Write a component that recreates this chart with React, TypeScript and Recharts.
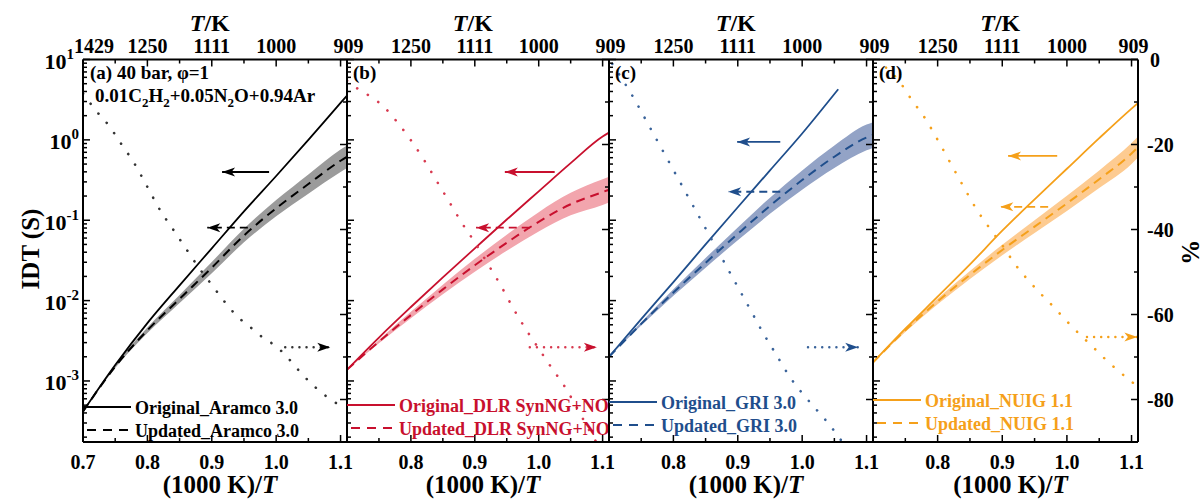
import React from 'react';
import { ComposedChart, Line, Area, XAxis, YAxis, ReferenceLine, ReferenceDot, Legend } from 'recharts';

const FONT = "'Liberation Serif', 'Times New Roman', Times, serif";
const W = 1202;
const H = 500;
const PLOT_TOP = 59.5;
const PLOT_BOTTOM = 442;
const X_DOMAIN: [number, number] = [0.7, 1.11];
const IDT_DOMAIN: [number, number] = [1.74e-4, 10];
const PCT_DOMAIN: [number, number] = [-90, 0];

// ---- axis ticks & labels ----
const xMajorTicks = [0.7, 0.8, 0.9, 1.0, 1.1];
const xMinorTicks = [0.75, 0.85, 0.95, 1.05];
const bottomTickLabels = ['0.7', '0.8', '0.9', '1.0', '1.1'];
const topTickLabels = ['1429', '1250', '1111', '1000', '909'];
const idtMajorTicks = [0.001, 0.01, 0.1, 1, 10];
const idtExponents = ['-3', '-2', '-1', '0', '1'];
const pctMajorTicks = [0, -20, -40, -60, -80];
const pctMinorTicks = [-10, -30, -50, -70, -90];
const pctTickLabels = ['0', '-20', '-40', '-60', '-80'];

// ---- data: (1000 K)/T grid and IDT (s) ----
const xGrid = [0.7, 0.75, 0.8, 0.85, 0.9, 0.95, 1.0, 1.05, 1.1, 1.11];
const xGridGRI = [0.7, 0.75, 0.8, 0.85, 0.9, 0.95, 1.0, 1.05, 1.056];

const aramcoOriginal = [4.17e-4, 1.58e-3, 5.25e-3, 1.55e-2, 4.47e-2, 0.129, 0.355, 1.0, 2.88, 3.55];
const aramcoUpdated = [4.17e-4, 1.51e-3, 4.27e-3, 1.05e-2, 2.57e-2, 6.46e-2, 0.141, 0.282, 0.55, 0.617];
const aramcoLower = [4.17e-4, 1.45e-3, 3.94e-3, 9.33e-3, 2.19e-2, 5.31e-2, 0.112, 0.214, 0.398, 0.447];
const aramcoUpper = [4.17e-4, 1.58e-3, 4.62e-3, 1.17e-2, 3.02e-2, 7.85e-2, 0.178, 0.372, 0.759, 0.851];

const dlrOriginal = [1.38e-3, 3.47e-3, 8.32e-3, 1.95e-2, 4.47e-2, 0.102, 0.229, 0.513, 1.1, 1.23];
const dlrUpdated = [1.38e-3, 3.09e-3, 6.61e-3, 1.38e-2, 2.75e-2, 5.25e-2, 9.55e-2, 0.158, 0.224, 0.24];
const dlrLower = [1.38e-3, 2.95e-3, 6.03e-3, 1.2e-2, 2.29e-2, 4.17e-2, 7.24e-2, 0.115, 0.155, 0.166];
const dlrUpper = [1.38e-3, 3.24e-3, 7.24e-3, 1.58e-2, 3.31e-2, 6.61e-2, 0.126, 0.219, 0.324, 0.347];

const griOriginal = [2.0e-3, 5.89e-3, 1.7e-2, 5.01e-2, 0.145, 0.417, 1.2, 3.72, 4.27];
const griUpdated = [2.0e-3, 5.13e-3, 1.26e-2, 2.95e-2, 6.76e-2, 0.151, 0.316, 0.617, 1.07, 1.15];
const griLower = [2.0e-3, 4.9e-3, 1.15e-2, 2.57e-2, 5.62e-2, 0.12, 0.24, 0.447, 0.741, 0.794];
const griUpper = [2.0e-3, 5.37e-3, 1.38e-2, 3.39e-2, 8.13e-2, 0.191, 0.417, 0.851, 1.55, 1.66];

const nuigOriginal = [1.7e-3, 4.47e-3, 1.12e-2, 2.82e-2, 7.41e-2, 0.182, 0.437, 1.05, 2.45, 2.88];
const nuigUpdated = [1.7e-3, 4.27e-3, 9.77e-3, 2.09e-2, 4.27e-2, 8.32e-2, 0.162, 0.324, 0.676, 0.813];
const nuigLower = [1.7e-3, 4.07e-3, 9.02e-3, 1.86e-2, 3.67e-2, 6.92e-2, 0.13, 0.251, 0.501, 0.603];
const nuigUpper = [1.7e-3, 4.47e-3, 1.06e-2, 2.34e-2, 4.95e-2, 0.1, 0.202, 0.417, 0.912, 1.1];

// ---- data: relative change (%) ----
const pctXAramco = [0.7, 0.72, 0.74, 0.76, 0.78, 0.8, 0.82, 0.84, 0.86, 0.88, 0.9, 0.92, 0.94, 0.96, 0.98, 1.0, 1.02, 1.04, 1.06, 1.08, 1.1];
const pctAramco = [-8, -12, -15.5, -20, -24.5, -30, -35.5, -40, -44.5, -49, -53, -57, -60.5, -63, -65.5, -67.5, -70.5, -74, -77, -79.5, -81.5];
const pctXDlr = [0.7, 0.72, 0.74, 0.76, 0.78, 0.8, 0.82, 0.84, 0.86, 0.88, 0.9, 0.92, 0.94, 0.96, 0.98, 1.0, 1.02, 1.04, 1.06, 1.08, 1.09];
const pctDlr = [-5, -7.2, -9, -11.5, -15, -19, -23.5, -28.5, -33.5, -38.5, -43, -48, -53, -58.5, -63.5, -68, -72.5, -76.8, -82, -87.5, -90];
const pctXGri = [0.705, 0.72, 0.74, 0.76, 0.78, 0.8, 0.82, 0.84, 0.86, 0.88, 0.9, 0.92, 0.94, 0.96, 0.98, 1.0, 1.02, 1.04, 1.06];
const pctGri = [-1, -4.5, -9.5, -15, -20.5, -26, -31.5, -37, -42.5, -48, -53.5, -59, -64.5, -69.5, -74.5, -78.5, -82, -85.5, -89.5];
const pctXNuig = [0.72, 0.74, 0.76, 0.78, 0.8, 0.82, 0.84, 0.86, 0.88, 0.9, 0.92, 0.94, 0.96, 0.98, 1.0, 1.02, 1.04, 1.06, 1.08, 1.1, 1.11];
const pctNuig = [-1.9, -5, -9.5, -13.7, -18.9, -24.4, -29.9, -35.2, -39.6, -43.7, -48.2, -51.9, -55.2, -58.3, -61.6, -64.7, -67.6, -70.6, -73.3, -75.8, -77];

type ArrowSpec = { kind: 'solid' | 'dashed' | 'dotted'; axis: 'idt' | 'pct'; y: number; from: number; to: number };

const arrowsAramco: ArrowSpec[] = [
  { kind: 'solid', axis: 'idt', y: 0.398, from: 0.989, to: 0.916 },
  { kind: 'dashed', axis: 'idt', y: 0.0807, from: 0.956, to: 0.893 },
  { kind: 'dotted', axis: 'pct', y: -67.7, from: 1.014, to: 1.084 },
];
const arrowsDlr: ArrowSpec[] = [
  { kind: 'solid', axis: 'idt', y: 0.398, from: 1.025, to: 0.947 },
  { kind: 'dashed', axis: 'idt', y: 0.0807, from: 0.986, to: 0.902 },
  { kind: 'dotted', axis: 'pct', y: -67.7, from: 0.986, to: 1.091 },
];
const arrowsGri: ArrowSpec[] = [
  { kind: 'solid', axis: 'idt', y: 0.944, from: 0.966, to: 0.899 },
  { kind: 'dashed', axis: 'idt', y: 0.226, from: 0.966, to: 0.885 },
  { kind: 'dotted', axis: 'pct', y: -67.7, from: 1.009, to: 1.087 },
];
const arrowsNuig: ArrowSpec[] = [
  { kind: 'solid', axis: 'idt', y: 0.632, from: 0.985, to: 0.909 },
  { kind: 'dashed', axis: 'idt', y: 0.147, from: 0.971, to: 0.897 },
  { kind: 'dotted', axis: 'pct', y: -65.3, from: 1.031, to: 1.109 },
];

type PanelCfg = {
  tag: string;
  left: number;
  right: number;
  color: string;
  dotColor: string;
  band: string;
  x: number[];
  originalX: number[];
  original: number[];
  updated: number[];
  lower: number[];
  upper: number[];
  pctX: number[];
  pct: number[];
  arrows: ArrowSpec[];
  names: [string, string];
  legendY: number;
  first: boolean;
  last: boolean;
};

const panels: PanelCfg[] = [
  {
    tag: '(a)', left: 83, right: 347, color: '#000000', dotColor: '#333333', band: '#9b9b9b',
    x: xGrid, originalX: xGrid, original: aramcoOriginal, updated: aramcoUpdated, lower: aramcoLower, upper: aramcoUpper,
    pctX: pctXAramco, pct: pctAramco, arrows: arrowsAramco,
    names: ['Original_Aramco 3.0', 'Updated_Aramco 3.0'], legendY: 407, first: true, last: false,
  },
  {
    tag: '(b)', left: 347, right: 609, color: '#C8102E', dotColor: '#D83A50', band: '#F2A5AD',
    x: xGrid, originalX: xGrid, original: dlrOriginal, updated: dlrUpdated, lower: dlrLower, upper: dlrUpper,
    pctX: pctXDlr, pct: pctDlr, arrows: arrowsDlr,
    names: ['Original_DLR SynNG+NO', 'Updated_DLR SynNG+NO'], legendY: 405, first: false, last: false,
  },
  {
    tag: '(c)', left: 609, right: 873, color: '#1F4E8C', dotColor: '#3A639A', band: '#93A3C6',
    x: xGrid, originalX: xGridGRI, original: griOriginal, updated: griUpdated, lower: griLower, upper: griUpper,
    pctX: pctXGri, pct: pctGri, arrows: arrowsGri,
    names: ['Original_GRI 3.0', 'Updated_GRI 3.0'], legendY: 402, first: false, last: false,
  },
  {
    tag: '(d)', left: 873, right: 1138, color: '#F5A01A', dotColor: '#F5A01A', band: '#FDCB91',
    x: xGrid, originalX: xGrid, original: nuigOriginal, updated: nuigUpdated, lower: nuigLower, upper: nuigUpper,
    pctX: pctXNuig, pct: pctNuig, arrows: arrowsNuig,
    names: ['Original_NUIG 1.1', 'Updated_NUIG 1.1'], legendY: 400, first: false, last: true,
  },
];

// ---- helpers ----
const idtMinorTicks: number[] = [];
[1e-4, 1e-3, 1e-2, 1e-1, 1].forEach((d) => {
  for (let k = 2; k <= 9; k++) {
    const v = k * d;
    if (v >= IDT_DOMAIN[0] && v <= IDT_DOMAIN[1]) idtMinorTicks.push(v);
  }
});
const idtTicks = [...idtMajorTicks, ...idtMinorTicks].sort((a, b) => a - b);
const xTicks = [...xMajorTicks, ...xMinorTicks].sort((a, b) => a - b);
const pctTicks = [...pctMajorTicks, ...pctMinorTicks].sort((a, b) => a - b);

const findIdx = (arr: number[], v: number) => arr.findIndex((a) => Math.abs(a - v) <= Math.abs(a) * 1e-6 + 1e-9);

const textStyle = { fontFamily: FONT, fontWeight: 700 as const };

const AXIS_LINE = { stroke: '#000', strokeWidth: 2 };

function BottomTick(props: any) {
  const { x, y, payload, first } = props;
  const i = findIdx(xMajorTicks, payload.value);
  const major = i >= 0;
  const show = major && (first || i > 0);
  return (
    <g>
      <line x1={x} x2={x} y1={y} y2={y - (major ? 7 : 4)} stroke="#000" strokeWidth={1.5} />
      {show && (
        <text x={x} y={y + 27} textAnchor="middle" fontSize={20} fill="#000" {...textStyle}>
          {bottomTickLabels[i]}
        </text>
      )}
    </g>
  );
}

function TopTick(props: any) {
  const { x, y, payload, first, last } = props;
  const i = findIdx(xMajorTicks, payload.value);
  const major = i >= 0;
  const show = major && (first || i > 0);
  const shift = i === 0 ? 11 : i === 4 ? (last ? 2 : 8) : 0;
  return (
    <g>
      <line x1={x} x2={x} y1={y} y2={y + (major ? 7 : 4)} stroke="#000" strokeWidth={1.5} />
      {show && (
        <text x={x + shift} y={y - 6.5} textAnchor="middle" fontSize={20} fill="#000" {...textStyle}>
          {topTickLabels[i]}
        </text>
      )}
    </g>
  );
}

function LeftTick(props: any) {
  const { x, y, payload, first } = props;
  const i = findIdx(idtMajorTicks, payload.value);
  const major = i >= 0;
  const dx = i === idtMajorTicks.length - 1 ? 9 : 4;
  return (
    <g>
      <line x1={x} x2={x + (major ? 7 : 4)} y1={y} y2={y} stroke="#000" strokeWidth={1.5} />
      {major && first && (
        <text x={x - dx} y={y + 9.5} textAnchor="end" fontSize={22} fill="#000" {...textStyle}>
          10
          <tspan dy={-10} fontSize={15}>{idtExponents[i]}</tspan>
        </text>
      )}
    </g>
  );
}

function RightTick(props: any) {
  const { x, y, payload, last } = props;
  const i = findIdx(pctMajorTicks, payload.value);
  const major = i >= 0;
  const dx = i === 0 ? 12 : 9;
  return (
    <g>
      <line x1={x} x2={x - (major ? 7 : 4)} y1={y} y2={y} stroke="#000" strokeWidth={1.5} />
      {major && last && (
        <text x={x + dx} y={y + 7} textAnchor="start" fontSize={20} fill="#000" {...textStyle}>
          {pctTickLabels[i]}
        </text>
      )}
    </g>
  );
}

function ArrowHead(props: any) {
  const { cx, cy, dir, color } = props;
  if (cx == null || cy == null) return null;
  const s = dir === 'left' ? 1 : -1;
  const pts = [
    [cx, cy],
    [cx + s * 13, cy - 4.5],
    [cx + s * 9.5, cy],
    [cx + s * 13, cy + 4.5],
  ]
    .map((p) => p.join(','))
    .join(' ');
  return <polygon points={pts} fill={color} stroke="none" />;
}

function LegendBox({ cfg }: { cfg: PanelCfg }) {
  return (
    <svg width={300} height={50} style={{ overflow: 'visible', display: 'block' }}>
      <line x1={0} x2={48} y1={10} y2={10} stroke={cfg.color} strokeWidth={2} />
      <text x={52} y={16.5} fontSize={18} fill={cfg.color} {...textStyle}>
        {cfg.names[0]}
      </text>
      <line x1={4} x2={48} y1={33} y2={33} stroke={cfg.color} strokeWidth={2} strokeDasharray="9 7" />
      <text x={52} y={39.5} fontSize={18} fill={cfg.color} {...textStyle}>
        {cfg.names[1]}
      </text>
    </svg>
  );
}

function Panel({ cfg }: { cfg: PanelCfg }) {
  const bandData = cfg.x.map((x, i) => ({ x, range: [cfg.lower[i], cfg.upper[i]] }));
  const origData = cfg.originalX.map((x, i) => ({ x, idt: cfg.original[i] }));
  const updData = cfg.x.map((x, i) => ({ x, idt: cfg.updated[i] }));
  const pctData = cfg.pctX.map((x, i) => ({ x, pct: cfg.pct[i] }));
  const axisW = 40;
  const axisH = 30;
  const frac = 0.2 / 0.41;

  return (
    <div style={{ position: 'absolute', left: 0, top: 0, width: W, height: H }}>
      <ComposedChart
        width={W}
        height={H}
        data={bandData}
        margin={{
          top: PLOT_TOP - axisH,
          bottom: H - PLOT_BOTTOM - axisH,
          left: cfg.left - axisW,
          right: W - cfg.right - axisW,
        }}
      >
        <XAxis
          xAxisId="b"
          dataKey="x"
          type="number"
          domain={X_DOMAIN}
          allowDataOverflow
          ticks={xTicks}
          interval={0}
          height={axisH}
          tickSize={0}
          tickMargin={0}
          tickLine={false}
          axisLine={AXIS_LINE}
          tick={(p: any) => <BottomTick {...p} first={cfg.first} />}
          label={{
            content: (lp: any) => {
              const vb = lp.viewBox || {};
              const cx = vb.x + vb.width / 2 + 5;
              return (
                <text x={cx} y={493} textAnchor="middle" fontSize={25} fill="#000" {...textStyle}>
                  (1000 K)/<tspan fontStyle="italic">T</tspan>
                </text>
              );
            },
          }}
        />
        <XAxis
          xAxisId="t"
          orientation="top"
          dataKey="x"
          type="number"
          domain={X_DOMAIN}
          allowDataOverflow
          ticks={xTicks}
          interval={0}
          height={axisH}
          tickSize={0}
          tickMargin={0}
          tickLine={false}
          axisLine={AXIS_LINE}
          tick={(p: any) => <TopTick {...p} first={cfg.first} last={cfg.last} />}
          label={{
            content: (lp: any) => {
              const vb = lp.viewBox || {};
              const cx = vb.x + vb.width * frac - 2;
              return (
                <text x={cx} y={31} textAnchor="middle" fontSize={24} fill="#000" {...textStyle}>
                  <tspan fontStyle="italic">T</tspan>/K
                </text>
              );
            },
          }}
        />
        <YAxis
          yAxisId="idt"
          type="number"
          scale="log"
          domain={IDT_DOMAIN}
          allowDataOverflow
          ticks={idtTicks}
          interval={0}
          width={axisW}
          tickSize={0}
          tickMargin={0}
          tickLine={false}
          axisLine={AXIS_LINE}
          tick={(p: any) => <LeftTick {...p} first={cfg.first} />}
          label={
            cfg.first
              ? {
                  content: () => (
                    <text
                      x={30}
                      y={249}
                      textAnchor="middle"
                      dominantBaseline="central"
                      fontSize={25}
                      fill="#000"
                      transform="rotate(-90, 30, 249)"
                      {...textStyle}
                    >
                      IDT (S)
                    </text>
                  ),
                }
              : undefined
          }
        />
        <YAxis
          yAxisId="pct"
          orientation="right"
          type="number"
          domain={PCT_DOMAIN}
          allowDataOverflow
          ticks={pctTicks}
          interval={0}
          width={axisW}
          tickSize={0}
          tickMargin={0}
          tickLine={false}
          axisLine={AXIS_LINE}
          tick={(p: any) => <RightTick {...p} last={cfg.last} />}
          label={
            cfg.last
              ? {
                  content: () => (
                    <text
                      x={1190}
                      y={252}
                      textAnchor="middle"
                      dominantBaseline="central"
                      fontSize={25}
                      fill="#000"
                      transform="rotate(90, 1190, 252)"
                      {...textStyle}
                    >
                      %
                    </text>
                  ),
                }
              : undefined
          }
        />
        <Area
          xAxisId="b"
          yAxisId="idt"
          dataKey="range"
          type="monotone"
          stroke="none"
          fill={cfg.band}
          fillOpacity={1}
          isAnimationActive={false}
          dot={false}
          activeDot={false}
        />
        <Line
          xAxisId="b"
          yAxisId="idt"
          data={origData}
          dataKey="idt"
          type="monotone"
          stroke={cfg.color}
          strokeWidth={1.8}
          dot={false}
          activeDot={false}
          isAnimationActive={false}
        />
        <Line
          xAxisId="b"
          yAxisId="idt"
          data={updData}
          dataKey="idt"
          type="monotone"
          stroke={cfg.color}
          strokeWidth={2}
          strokeDasharray="9 6"
          dot={false}
          activeDot={false}
          isAnimationActive={false}
        />
        <Line
          xAxisId="b"
          yAxisId="pct"
          data={pctData}
          dataKey="pct"
          type="monotone"
          stroke={cfg.dotColor}
          strokeWidth={2.6}
          strokeDasharray="0.1 12.5"
          strokeLinecap="round"
          dot={false}
          activeDot={false}
          isAnimationActive={false}
        />
        {cfg.arrows.map((a, k) => (
          <ReferenceLine
            key={`al${k}`}
            xAxisId="b"
            yAxisId={a.axis}
            segment={[
              { x: a.from, y: a.y },
              { x: a.to, y: a.y },
            ]}
            stroke={a.kind === 'dotted' ? cfg.dotColor : cfg.color}
            strokeWidth={a.kind === 'dotted' ? 2.4 : 1.8}
            strokeDasharray={a.kind === 'dashed' ? '8 5' : a.kind === 'dotted' ? '0.1 7' : undefined}
            strokeLinecap={a.kind === 'dotted' ? 'round' : 'butt'}
            ifOverflow="visible"
          />
        ))}
        {cfg.arrows.map((a, k) => (
          <ReferenceDot
            key={`ah${k}`}
            xAxisId="b"
            yAxisId={a.axis}
            x={a.to}
            y={a.y}
            r={0}
            ifOverflow="visible"
            shape={(p: any) => <ArrowHead {...p} dir={a.to < a.from ? 'left' : 'right'} color={cfg.color} />}
          />
        ))}
        <Legend
          layout="horizontal"
          verticalAlign="middle"
          align="center"
          wrapperStyle={{ position: 'absolute', left: cfg.left, top: cfg.legendY - 10, width: 300, height: 50, margin: 0, padding: 0 }}
          content={() => <LegendBox cfg={cfg} />}
        />
      </ComposedChart>
    </div>
  );
}

function PanelTexts() {
  return (
    <svg width={W} height={H} style={{ position: 'absolute', left: 0, top: 0, pointerEvents: 'none' }}>
      <text x={90} y={79} fontSize={19} fill="#000" {...textStyle}>
        (a) 40 bar, φ=1
      </text>
      <text x={95} y={102} fontSize={19} fill="#000" {...textStyle}>
        0.01C<tspan dy={5} fontSize={13}>2</tspan>
        <tspan dy={-5}>H</tspan>
        <tspan dy={5} fontSize={13}>2</tspan>
        <tspan dy={-5}>+0.05N</tspan>
        <tspan dy={5} fontSize={13}>2</tspan>
        <tspan dy={-5}>O+0.94Ar</tspan>
      </text>
      {panels.slice(1).map((p) => (
        <text key={p.tag} x={p.left + 6} y={79} fontSize={19} fill="#000" {...textStyle}>
          {p.tag}
        </text>
      ))}
    </svg>
  );
}

export default function App() {
  return (
    <div style={{ position: 'absolute', left: 0, top: 0, width: W, height: H, background: '#fff', overflow: 'hidden' }}>
      {panels.map((p) => (
        <Panel key={p.tag} cfg={p} />
      ))}
      <PanelTexts />
    </div>
  );
}
